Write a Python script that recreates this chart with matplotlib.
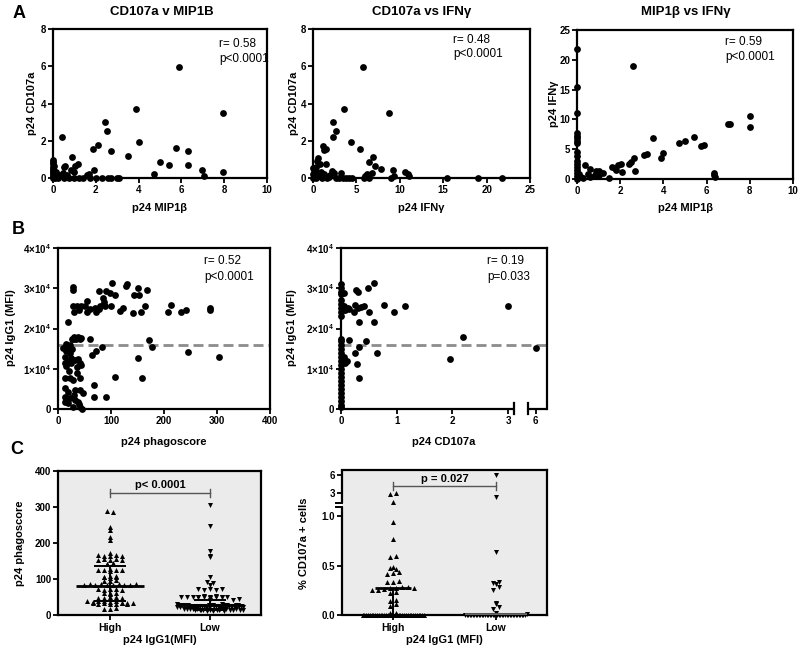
import numpy as np
import matplotlib
matplotlib.use('Agg')
import matplotlib.pyplot as plt

plt.rcParams['font.family'] = ['Liberation Sans', 'DejaVu Sans']
plt.rcParams['mathtext.default'] = 'regular'

# ---------------- data ----------------
# Panel A1: CD107a vs MIP1b
a1_mip = [5.9, 7.95, 3.9, 2.45, 2.5, 0.4, 4.0, 2.1, 1.85, 2.7, 3.5, 5.75, 6.3, 6.3, 5.0, 5.4, 4.7, 6.95, 7.05, 7.95,
          0.9, 1.15, 1.05, 0.55, 0.5, 0.85, 1.9, 1.7, 1.6, 0.3, 0.45, 0.2, 0.65, 1.0,
          0, 0, 0, 0, 0, 0, 0, 0, 0, 0, 0.1, 0.25, 0.5, 0.75, 1.0, 1.2, 1.4, 1.75, 2.0, 2.3, 2.55, 2.7, 3.0, 3.1,
          0.15, 0.05, 0.6]
a1_cd107 = [5.95, 3.47, 3.7, 3.0, 2.5, 2.2, 1.93, 1.75, 1.55, 1.47, 1.16, 1.6, 1.46, 0.71, 0.84, 0.68, 0.2, 0.43, 0.13, 0.3,
            1.12, 0.75, 0.62, 0.62, 0.6, 0.45, 0.42, 0.2, 0.15, 0.15, 0.25, 0.1, 0.15, 0.3,
            0.95, 0.85, 0.75, 0.6, 0.5, 0.4, 0.3, 0.2, 0.1, 0.0, 0.0, 0.0, 0.0, 0.0, 0.0, 0.0, 0.0, 0.0, 0.0, 0.0, 0.0, 0.0, 0.0, 0.0,
            0.3, 0.65, 0.05]

# Panel A2: CD107a vs IFNg
a2_ifn = [5.75, 8.7, 3.6, 2.3, 2.7, 2.25, 4.4, 5.4, 1.1, 1.3, 1.45, 6.9, 6.4, 7.1, 7.8, 9.2, 6.8, 10.6, 10.9, 11.1, 9.3,
          15.4, 19.0, 21.8, 0.5, 0.6, 0.3, 0.8, 1.5, 0.2, 0.4, 2.2, 2.4, 3.2, 0.1, 0.0, 0.0, 0.0, 0.3, 0.7, 1.0, 1.3,
          1.6, 1.9, 2.6, 3.0, 3.5, 3.8, 4.1, 4.5, 6.0, 6.2, 5.9, 6.5, 9.0, 0.9, 1.8, 2.0]
a2_cd107 = [5.95, 3.47, 3.7, 3.0, 2.5, 2.2, 1.93, 1.58, 1.73, 1.5, 1.55, 1.15, 0.84, 0.67, 0.47, 0.45, 0.25, 0.3, 0.2, 0.12, 0.12,
            0.0, 0.0, 0.0, 0.9, 1.1, 0.6, 0.75, 0.75, 0.5, 0.4, 0.4, 0.25, 0.28, 0.3, 0.55, 0.2, 0.0, 0.0, 0.1, 0.0, 0.2,
            0.0, 0.1, 0.0, 0.0, 0.0, 0.0, 0.0, 0.0, 0.1, 0.2, 0.0, 0.0, 0.0, 0.3, 0.05, 0.15]

# Panel A3: IFNg vs MIP1b
a3_mip = [0, 0, 0, 0, 0, 0, 0, 0, 0, 0, 0, 0, 0, 0, 0, 0, 0,
          2.6, 8.0, 8.0, 7.0, 7.1, 3.5, 5.4, 4.7, 5.0, 5.75, 5.9, 4.0, 3.9, 3.1, 3.25, 2.65, 2.5, 2.4, 2.05, 1.9,
          1.75, 2.7, 2.1, 1.6, 6.35, 6.35, 6.4, 0.35, 0.6, 0.9, 1.0, 1.2, 0.5, 0.8, 0.2, 0.3, 0.6, 1.0, 0.1, 1.5, 0.9, 1.8]
a3_ifn = [21.8, 15.4, 11.0, 7.8, 7.2, 6.8, 6.3, 6.0, 4.5, 3.8, 3.0, 2.5, 2.0, 1.5, 1.0, 0.5, 0.0,
          19.0, 10.6, 8.7, 9.2, 9.3, 6.9, 7.0, 6.1, 6.3, 5.5, 5.7, 4.4, 3.6, 4.0, 4.2, 3.5, 2.8, 2.6, 2.5, 2.3,
          1.9, 1.4, 1.1, 2.0, 1.0, 0.6, 0.3, 2.3, 1.6, 1.3, 1.4, 1.0, 0.8, 0.5, 0.3, 0.1, 0.4, 0.7, 0.9, 0.2, 0.9, 1.5]

# Panel B1: IgG1 vs phagoscore
b1_phago = [101, 128, 130, 150, 167, 28, 29, 77, 90, 98, 108, 143, 152, 85, 87, 55, 44, 28, 36, 51, 40, 30,
            60, 69, 77, 79, 88, 100, 72, 55, 117, 123, 142, 156, 165, 214, 208, 233, 241, 287, 287, 19,
            172, 178, 61, 27, 31, 35, 38, 41, 44, 30, 34, 16, 19, 65, 72, 83, 150, 246, 304, 159, 107, 67, 67, 91,
            9, 16, 22, 13, 25, 32, 19, 13, 25, 16, 38, 41, 44, 35, 13, 22, 28, 41, 13, 19, 32, 41, 47, 13, 22,
            32, 38, 13, 19, 41, 28, 45, 40, 30, 20, 35, 27, 22]
b1_igg = [31400, 30500, 31000, 30000, 29600, 30300, 29600, 29200, 29200, 28800, 28200, 28400, 28400, 27500, 26700,
          26900, 25700, 25700, 25600, 25500, 24600, 24200, 24800, 25100, 24800, 25500, 25600, 25600, 24200, 24000,
          24400, 25100, 23800, 24000, 25600, 25900, 24000, 24000, 24600, 25100, 24600, 21600,
          17200, 15500, 17300, 17500, 17800, 17600, 17900, 17500, 17700, 17300, 17400, 16200, 15100, 13400, 14300,
          15500, 12600, 14100, 13000, 7600, 7900, 6000, 2900, 3100,
          15100, 14300, 13900, 13000, 12600, 12200, 11800, 11400, 11400, 10600, 12400, 11400, 11000, 8900, 7600,
          7600, 7200, 7600, 5100, 4300, 4600, 4600, 3900, 3100, 2700, 2200, 1800, 1800, 1400, 600, 500, 0,
          1200, 3500, 9500, 10500, 14800, 16000]

# Panel B2: IgG1 vs CD107a
b2_cd107 = [0] * 28 + [0.6, 0.48, 0.27, 0.3, 0.05, 0.78, 0.95, 1.15, 0.42, 0.5, 0.25, 0.3, 0.23, 0.15, 0.12, 0.05,
                       0.08, 0.36, 0.33, 0.6, 0.15, 0.45, 0.33, 0.65, 0.25, 0.05, 0.1, 0.08, 0.28, 0.32,
                       1.95, 2.2, 3.0, 6.0]
b2_igg = [31000, 30000, 29000, 28500, 27000, 26000, 25000, 24000, 23000, 17500, 17000, 16000, 15000, 14000, 13000,
          12000, 11000, 10000, 9000, 8000, 7000, 6000, 5000, 4000, 3000, 2000, 1000, 500,
          31200, 30000, 29500, 29000, 28800, 25800, 24000, 25500, 25500, 24000, 25800, 25000, 24000, 24800, 25000,
          25500, 24500, 25300, 21500, 21500, 17200, 17000, 15500, 14000, 13800, 13000, 12000, 11500, 11200, 7800,
          12500, 17800, 25600, 15200]
igg_cutoff = 15800

# Panel C1: phagoscore by IgG1 group
c1_high = [288, 285, 244, 235, 216, 209, 172, 166, 165, 164, 166, 163, 153, 155, 152, 156, 154, 143, 141, 144, 142,
           126, 124, 127, 125, 123, 124, 106, 105, 107, 104, 108, 105, 95, 94, 96, 84, 85, 83, 86, 84, 82, 85, 83,
           84, 86, 71, 70, 72, 71, 69, 60, 61, 59, 62, 48, 47, 49, 50, 46, 38, 37, 39, 38, 36, 40, 32, 31, 33, 32,
           30, 34, 31, 33, 32, 30, 18, 17, 19]
c1_low = [305, 248, 178, 165, 160, 105, 92, 90, 83, 72, 70, 73, 69, 71,
          51, 50, 49, 52, 50, 51, 49, 50, 48, 52, 51, 50, 49, 50, 42, 44, 41,
          30, 29, 28, 28, 27, 27, 27, 26, 26, 26, 25, 25, 25, 24, 24, 24, 23, 23, 22, 22,
          29, 28, 27, 26, 25, 24, 23, 30, 29, 28, 27, 26, 25, 24, 26, 27, 28, 25, 24, 23,
          18, 17, 17, 16, 16, 15, 15, 15, 14, 14, 14, 13, 13, 12, 12, 18, 17, 16, 15, 14, 13, 12, 16, 15, 14]
c1_stats = {'High': (81, 40, 137), 'Low': (27, 15, 41)}   # median, q1, q3
c1_p = 'p< 0.0001'

# Panel C2: % CD107a+ cells by IgG1 group
c2_high = [0.0] * 35 + [0.02, 0.02, 0.09, 0.11, 0.14, 0.15, 0.22, 0.23, 0.25, 0.25, 0.26, 0.27, 0.27, 0.28, 0.28,
                        0.27, 0.33, 0.33, 0.34, 0.42, 0.43, 0.44, 0.48, 0.49, 0.47, 0.59, 0.60, 0.77, 0.94,
                        1.3, 2.7, 3.0]
c2_low = [0.0] * 40 + [0.01, 0.02, 0.06, 0.08, 0.11, 0.12, 0.25, 0.28, 0.31, 0.32, 0.33, 0.64, 2.2, 6.0]
c2_stats = {'High': (0.27, 0.0, 0.27), 'Low': (0.0, 0.0, 0.0)}
c2_p = 'p = 0.027'

groups = ['High', 'Low']

# ---------------- figure ----------------
W, H = 800, 653
fig = plt.figure(figsize=(W / 100, H / 100), dpi=100)


def axpx(l, t, r, b):
    return fig.add_axes([l / W, 1 - b / H, (r - l) / W, (b - t) / H])


def ftxt(x, y, s, **kw):
    kw.setdefault('ha', 'center')
    kw.setdefault('va', 'center')
    fig.text(x / W, 1 - y / H, s, **kw)


TICK_FS = 7
LAB_FS = 8


def style(ax, xt, xl, yt, yl):
    for sp in ax.spines.values():
        sp.set_linewidth(1.6)
        sp.set_color('black')
    ax.tick_params(direction='out', length=3.5, width=1.3, pad=1.5, top=False, right=False)
    ax.set_xticks(xt, xl, fontsize=TICK_FS, fontweight='bold')
    ax.set_yticks(yt, yl, fontsize=TICK_FS, fontweight='bold')


def scat(ax, x, y):
    ax.scatter(x, y, s=24, c='black', linewidths=0, clip_on=False, zorder=3)


def rp(x, y1, y2, r, p):
    ftxt(x, y1, r, ha='left', fontsize=8.5)
    ftxt(x, y2, p, ha='left', fontsize=8.5)


# ---- Panel A ----
ax = axpx(53, 29, 267, 178)
scat(ax, a1_mip, a1_cd107)
ax.set_xlim(0, 10); ax.set_ylim(0, 8)
style(ax, range(0, 11, 2), [str(v) for v in range(0, 11, 2)], range(0, 9, 2), [str(v) for v in range(0, 9, 2)])
ftxt(162, 12, 'CD107a v MIP1B', fontsize=9.5, fontweight='bold')
ftxt(160, 208, 'p24 MIP1β', fontsize=LAB_FS, fontweight='bold')
ftxt(32, 103, 'p24 CD107a', fontsize=LAB_FS, fontweight='bold', rotation=90)
rp(219, 44, 59, 'r= 0.58', 'p<0.0001')

ax = axpx(313, 29, 530, 178)
scat(ax, a2_ifn, a2_cd107)
ax.set_xlim(0, 25); ax.set_ylim(0, 8)
style(ax, range(0, 26, 5), [str(v) for v in range(0, 26, 5)], range(0, 9, 2), [str(v) for v in range(0, 9, 2)])
ftxt(422, 12, 'CD107a vs IFNγ', fontsize=9.5, fontweight='bold')
ftxt(421, 208, 'p24 IFNγ', fontsize=LAB_FS, fontweight='bold')
ftxt(294, 103, 'p24 CD107a', fontsize=LAB_FS, fontweight='bold', rotation=90)
rp(453, 40, 54, 'r= 0.48', 'p<0.0001')

ax = axpx(577, 30, 793, 179)
scat(ax, a3_mip, a3_ifn)
ax.set_xlim(0, 10); ax.set_ylim(0, 25)
style(ax, range(0, 11, 2), [str(v) for v in range(0, 11, 2)], range(0, 26, 5), [str(v) for v in range(0, 26, 5)])
ftxt(686, 12, 'MIP1β vs IFNγ', fontsize=9.5, fontweight='bold')
ftxt(685, 208, 'p24 MIP1β', fontsize=LAB_FS, fontweight='bold')
ftxt(554, 104, 'p24 IFNγ', fontsize=LAB_FS, fontweight='bold', rotation=90)
rp(725, 42, 57, 'r= 0.59', 'p<0.0001')

ftxt(19, 13, 'A', fontsize=13, fontweight='bold')

# ---- Panel B ----
ylab_b = ['0', '1×10$^{4}$', '2×10$^{4}$', '3×10$^{4}$', '4×10$^{4}$']
yt_b = [0, 10000, 20000, 30000, 40000]

ax = axpx(58, 248, 270, 409)
ax.axhline(igg_cutoff, color='#8c8c8c', lw=2, ls=(0, (3.6, 1.8)), zorder=2)
scat(ax, b1_phago, b1_igg)
ax.set_xlim(0, 400); ax.set_ylim(0, 40000)
style(ax, [0, 100, 200, 300, 400], ['0', '100', '200', '300', '400'], yt_b, ylab_b)
ftxt(164, 442, 'p24 phagoscore', fontsize=LAB_FS, fontweight='bold')
ftxt(11, 328, 'p24 IgG1 (MFI)', fontsize=LAB_FS, fontweight='bold', rotation=90)
rp(204, 261, 277, 'r= 0.52', 'p<0.0001')

# broken x axis for B2
BR_LO, BR_HI, GAP = 3.1, 5.85, 0.25


def fwd_b(x):
    x = np.asarray(x, dtype=float)
    return np.where(x <= BR_LO, x,
                    np.where(x >= BR_HI, x - BR_HI + BR_LO + GAP,
                             BR_LO + (x - BR_LO) * GAP / (BR_HI - BR_LO)))


def inv_b(u):
    u = np.asarray(u, dtype=float)
    return np.where(u <= BR_LO, u,
                    np.where(u >= BR_LO + GAP, u - BR_LO - GAP + BR_HI,
                             BR_LO + (u - BR_LO) * (BR_HI - BR_LO) / GAP))


ax = axpx(341, 248, 547, 409)
ax.set_xscale('function', functions=(fwd_b, inv_b))
ax.axhline(igg_cutoff, color='#8c8c8c', lw=2, ls=(0, (3.6, 1.8)), zorder=2)
scat(ax, b2_cd107, b2_igg)
ax.set_xlim(0, 6.2); ax.set_ylim(0, 40000)
style(ax, [0, 1, 2, 3, 6], ['0', '1', '2', '3', '6'], yt_b, ylab_b)
ax.xaxis.set_minor_locator(matplotlib.ticker.NullLocator())
ax.spines['bottom'].set_visible(False)
tr = ax.get_xaxis_transform()
ax.plot([0, BR_LO], [0, 0], color='black', lw=1.6, transform=tr, clip_on=False, solid_capstyle='butt')
ax.plot([BR_HI, 6.2], [0, 0], color='black', lw=1.6, transform=tr, clip_on=False, solid_capstyle='butt')
for xb in (BR_LO, BR_HI):
    ax.plot([xb, xb], [-0.03, 0.035], color='black', lw=1.6, transform=tr, clip_on=False)
ftxt(444, 442, 'p24 CD107a', fontsize=LAB_FS, fontweight='bold')
ftxt(292, 328, 'p24 IgG1 (MFI)', fontsize=LAB_FS, fontweight='bold', rotation=90)
rp(487, 261, 277, 'r= 0.19', 'p=0.033')

ftxt(18, 230, 'B', fontsize=13, fontweight='bold')


# ---- Panel C ----
def swarm(vals_disp, row_h, dx, maxw):
    v = np.asarray(vals_disp, dtype=float)
    keys = np.round(v / row_h).astype(int)
    off = np.zeros(len(v))
    for k in np.unique(keys):
        idx = np.where(keys == k)[0]
        n = len(idx)
        step = dx if (n - 1) * dx <= maxw or n < 2 else maxw / (n - 1)
        off[idx] = (np.arange(n) - (n - 1) / 2) * step
    return off


def stats_lines(ax, pos, med, q1, q3, color='black', mw=0.34, cw=0.16):
    ax.hlines(med, pos - mw, pos + mw, color=color, lw=2.0, zorder=4)
    if q3 > q1:
        ax.vlines(pos, q1, q3, color=color, lw=1.4, zorder=4)
        ax.hlines([q1, q3], pos - cw, pos + cw, color=color, lw=1.4, zorder=4)


def bracket(ax, yfrac, text, ytext):
    tr = ax.get_xaxis_transform()
    ax.plot([0, 1], [yfrac, yfrac], color='#555555', lw=1.0, transform=tr, clip_on=False)
    for xb in (0, 1):
        ax.plot([xb, xb], [yfrac - 0.025, yfrac + 0.025], color='#555555', lw=1.0, transform=tr, clip_on=False)
    ax.text(0.5, ytext, text, transform=tr, ha='center', va='center', fontsize=8, fontweight='bold')


BG = '#ebebeb'

ax = axpx(58, 471, 261, 615)
ax.set_facecolor(BG)
px_per_unit_y = 144 / 400
for i, (vals, mk) in enumerate([(c1_high, '^'), (c1_low, 'v')]):
    off = swarm(vals, 3.3 / px_per_unit_y, 0.058, 0.66)
    ax.scatter(i + off, vals, marker=mk, s=13, c='black', linewidths=0, zorder=3)
    med, q1, q3 = c1_stats[groups[i]]
    stats_lines(ax, i, med, q1, q3)
ax.set_xlim(-0.52, 1.51); ax.set_ylim(0, 400)
style(ax, [0, 1], groups, [0, 100, 200, 300, 400], ['0', '100', '200', '300', '400'])
ax.tick_params(axis='x', pad=2.5, labelsize=7.5)
bracket(ax, 0.847, c1_p, 0.905)
ftxt(160, 640, 'p24 IgG1(MFI)', fontsize=LAB_FS, fontweight='bold')
ftxt(20, 543, 'p24 phagoscore', fontsize=LAB_FS, fontweight='bold', rotation=90)

# broken y axis for C2
YB, YS = 1.13, 0.0586


def fwd_c(y):
    y = np.asarray(y, dtype=float)
    return np.where(y <= YB, y, YB + (y - YB) * YS)


def inv_c(u):
    u = np.asarray(u, dtype=float)
    return np.where(u <= YB, u, YB + (u - YB) / YS)


ax = axpx(342, 470, 547, 615)
ax.set_facecolor(BG)
ax.set_yscale('function', functions=(fwd_c, inv_c))
for i, (vals, mk) in enumerate([(c2_high, '^'), (c2_low, 'v')]):
    off = swarm(fwd_c(vals), 3.3 / 99, 0.058, 0.6)
    ax.scatter(i + off, vals, marker=mk, s=13, c='black', linewidths=0, zorder=3, clip_on=False)
    med, q1, q3 = c2_stats[groups[i]]
    col = 'black' if i == 0 else '#6a6a6a'
    ax.hlines(med, i - (0.175 if i == 0 else 0.3), i + (0.175 if i == 0 else 0.3), color=col,
              lw=2.0 if i == 0 else 2.6, zorder=4)
    if q3 > q1:
        ax.vlines(i, q1, q3, color=col, lw=1.4, zorder=4)
ax.set_xlim(-0.5, 1.5); ax.set_ylim(0, 6.9)
style(ax, [0, 1], groups, [0, 0.5, 1.0, 3, 6], ['0.0', '0.5', '1.0', '3', '6'])
ax.yaxis.set_minor_locator(matplotlib.ticker.NullLocator())
ax.tick_params(axis='x', pad=2.5, labelsize=7.5)
ax.spines['left'].set_visible(False)
tr = ax.get_yaxis_transform()
ax.plot([0, 0], [0, 1.09], color='black', lw=1.6, transform=tr, clip_on=False, solid_capstyle='butt')
ax.plot([0, 0], [1.15, 6.9], color='black', lw=1.6, transform=tr, clip_on=False, solid_capstyle='butt')
for yb in (1.09, 1.15):
    ax.plot([-0.03, 0.0], [yb, yb], color='black', lw=1.4, transform=tr, clip_on=False)
bracket(ax, 0.89, c2_p, 0.937)
ftxt(444, 640, 'p24 IgG1 (MFI)', fontsize=LAB_FS, fontweight='bold')
ftxt(304, 543, '% CD107a + cells', fontsize=LAB_FS, fontweight='bold', rotation=90)

ftxt(17, 449, 'C', fontsize=13, fontweight='bold')

fig.savefig('out.png', dpi=100)
